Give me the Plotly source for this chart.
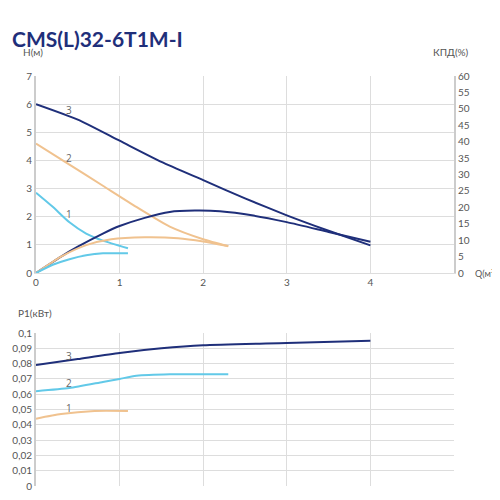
import plotly.graph_objects as go

q3 = [0, 0.5, 1, 1.5, 2, 2.5, 3, 3.5, 4]
h3 = [6, 5.45, 4.7, 3.95, 3.3, 2.65, 2.05, 1.5, 0.98]
q2 = [0, 0.4, 0.8, 1.2, 1.6, 2.0, 2.3]
h2 = [4.6, 3.85, 3.1, 2.35, 1.65, 1.2, 0.95]
q1 = [0, 0.2, 0.4, 0.6, 0.8, 1.1]
h1 = [2.85, 2.35, 1.8, 1.4, 1.15, 0.88]
eq3 = [0, 0.3, 0.5, 0.8, 1.0, 1.3, 1.6, 1.9, 2.2, 2.6, 3.0, 3.5, 4.0]
e3 = [0, 5, 8, 12, 14.3, 16.8, 18.6, 19, 18.8, 17.5, 15.5, 12.5, 9.5]
eq2 = [0, 0.3, 0.6, 0.9, 1.3, 1.7, 2.0, 2.3]
e2 = [0, 5, 8.5, 10.3, 10.9, 10.6, 9.6, 8.2]
eq1 = [0, 0.2, 0.4, 0.6, 0.8, 1.1]
e1 = [0, 2.5, 4.2, 5.4, 6.0, 6.0]
pq3 = [0, 0.5, 1, 1.5, 2, 3, 4]
p3 = [0.079, 0.083, 0.087, 0.090, 0.092, 0.0935, 0.095]
pq2 = [0, 0.4, 0.8, 1.0, 1.2, 1.6, 2.3]
p2 = [0.062, 0.064, 0.068, 0.070, 0.072, 0.073, 0.073]
pq1 = [0, 0.3, 0.7, 1.1]
p1 = [0.044, 0.047, 0.049, 0.049]
q_ticks = [0, 1, 2, 3, 4]
p_ticks = [0, 0.01, 0.02, 0.03, 0.04, 0.05, 0.06, 0.07, 0.08, 0.09, 0.1]
p_ticktext = ["0", "0,01", "0,02", "0,03", "0,04", "0,05", "0,06", "0,07", "0,08", "0,09", "0,1"]

NAVY, TAN, BLUE = "#1f2f7a", "#f0c28f", "#62c9e8"
fig = go.Figure()
def ln(x, y, c, xa="x", ya="y"):
    fig.add_trace(go.Scatter(x=x, y=y, mode="lines",
                             line=dict(color=c, width=2, shape="spline", smoothing=0.6),
                             xaxis=xa, yaxis=ya, showlegend=False, hoverinfo="skip"))
ln(q3, h3, NAVY); ln(q2, h2, TAN); ln(q1, h1, BLUE)
ln(eq3, e3, NAVY, "x", "y2"); ln(eq2, e2, TAN, "x", "y2"); ln(eq1, e1, BLUE, "x", "y2")
ln(pq3, p3, NAVY, "x2", "y3"); ln(pq2, p2, BLUE, "x2", "y3"); ln(pq1, p1, TAN, "x2", "y3")

g = "#dddddd"; tf = dict(size=10, color="#555", family="Lato")
fig.update_layout(
    width=500, height=500, margin=dict(l=0, r=0, t=0, b=0),
    plot_bgcolor="white", paper_bgcolor="white",
    xaxis=dict(domain=[0.056, 0.892], range=[0, 5], tickvals=q_ticks, gridcolor=g, zeroline=False,
               showline=True, linecolor=g, tickfont=tf, ticks="", anchor="y", automargin=False),
    yaxis=dict(domain=[0.47, 0.864], range=[0, 7], dtick=1, gridcolor=g, zeroline=False,
               showline=True, linecolor="#cccccc", linewidth=2, tickfont=tf, automargin=False),
    yaxis2=dict(overlaying="y", side="right", range=[0, 60], dtick=5, showgrid=False,
                zeroline=False, showline=True, linecolor="#cccccc", linewidth=2, tickfont=tf,
                anchor="x", automargin=False),
    xaxis2=dict(domain=[0.056, 0.892], range=[0, 5], tickvals=q_ticks, gridcolor=g, zeroline=False,
                showticklabels=False, anchor="y3", automargin=False),
    yaxis3=dict(domain=[0.044, 0.35], range=[0, 0.1], tickvals=p_ticks, ticktext=p_ticktext,
                gridcolor=g, zeroline=False, showline=True, linecolor="#cccccc", linewidth=2,
                tickfont=tf, anchor="x2", automargin=False),
)
ann = [
    dict(x=0.004, y=0.94, text="<b>CMS(L)32-6T1M-I</b>", font=dict(size=21, color=NAVY, family="Lato"), xanchor="left"),
    dict(x=0.025, y=0.912, text="H(м)", font=tf, xanchor="left"),
    dict(x=0.925, y=0.912, text="КПД(%)", font=tf, xanchor="right"),
    dict(x=0.998, y=0.47, text="Q(м³/ч)", font=dict(size=9, color="#555", family="Lato"), xanchor="right"),
    dict(x=0.015, y=0.39, text="P1(кВт)", font=tf, xanchor="left"),
]
for a in ann:
    a.update(xref="paper", yref="paper", showarrow=False, yanchor="middle")
    fig.add_annotation(**a)
for x, y, t, ya in [(0.4, 5.8, "3", "y"), (0.4, 4.1, "2", "y"), (0.4, 2.1, "1", "y"),
                    (0.4, 0.085, "3", "y3"), (0.4, 0.067, "2", "y3"), (0.4, 0.051, "1", "y3")]:
    fig.add_annotation(x=x, y=y, text=t, xref="x" if ya == "y" else "x2", yref=ya,
                       showarrow=False, font=dict(size=10, color="#666"))
fig.write_html("out.html")
